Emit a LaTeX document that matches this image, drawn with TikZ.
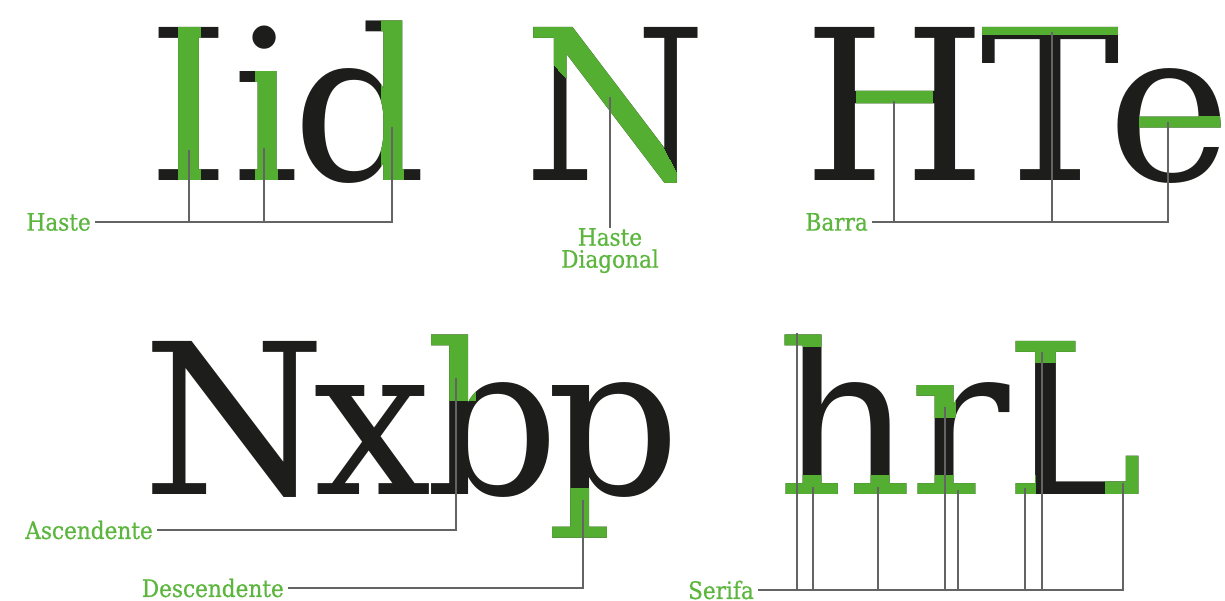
\documentclass[tikz,border=0pt]{standalone}
\usepackage{fontspec}
\usetikzlibrary{positioning}
\newfontfamily\glyphfont{DejaVu Serif}
\newfontfamily\labelfont{DejaVu Serif}[FakeStretch=0.9,FakeBold=0.6]
\definecolor{typegreen}{RGB}{84,174,50}
\definecolor{labelgreen}{RGB}{92,182,62}
\definecolor{typeink}{RGB}{29,29,27}
\definecolor{leadgray}{RGB}{100,100,100}

% green copy of a letter, seen only inside a clip path
\newcommand{\greenpart}[3]{%
  \begin{scope}
    \clip #1;
    \node[glyph, text=typegreen] at #2 {#3};
  \end{scope}}

\begin{document}
\begin{tikzpicture}[x=1pt, y=-1pt,
    glyph/.style={font={\glyphfont\fontsize{210}{210}\selectfont}, inner sep=0pt, outer sep=0pt, anchor=base, text=typeink},
    lbl/.style={font={\labelfont\fontsize{24}{26}\selectfont}, text=labelgreen, inner xsep=4pt, inner ysep=0pt},
    lead/.style={draw=leadgray, line width=1.4pt}
  ]
  \useasboundingbox (0,0) rectangle (1225,600);

  % top row: Iid  N  HTe
  \node[glyph] (gI) at (189,180) {I};
  \node[glyph] (gi) at (266,180) {i};
  \node[glyph] (gd) at (360,180) {d};
  \node[glyph] (gN) at (615,180) {N};
  \node[glyph] (gH) at (895,180) {H};
  \node[glyph] (gT) at (1051,180) {T};
  \node[glyph] (ge) at (1170,180) {e};

  \greenpart{(178,0) rectangle (200,190)}{(gI.base)}{I}
  \greenpart{(255,60) rectangle (277,190)}{(gi.base)}{i}
  \greenpart{(381,0) rectangle (403,190)}{(gd.base)}{d}
  \greenpart{(518,15) -- (592,15) -- (686,190) -- (671,190) -- (530,40) -- (518,40) -- cycle}{(gN.base)}{N}
  \greenpart{(856,85) rectangle (932,115)}{(gH.base)}{H}
  \greenpart{(970,15) rectangle (1130,34)}{(gT.base)}{T}
  \greenpart{(1139,116) rectangle (1225,128)}{(ge.base)}{e}

  % bottom row: Nxbp  hrL
  \node[glyph] (gN2) at (234,494) {N};
  \node[glyph] (gx) at (373,494) {x};
  \node[glyph] (gb) at (493,494) {b};
  \node[glyph] (gp) at (614,494) {p};
  \node[glyph] (gh) at (845,494) {h};
  \node[glyph] (gr) at (960,494) {r};
  \node[glyph] (gL) at (1074,494) {L};

  \greenpart{(430,310) rectangle (475,400)}{(gb.base)}{b}
  \greenpart{(545,488) -- (594,488) -- (594,500) -- (615,500) -- (615,560) -- (545,560) -- cycle}{(gp.base)}{p}
  \greenpart{(770,310) rectangle (830,346)}{(gh.base)}{h}
  \greenpart{(770,475) rectangle (920,500)}{(gh.base)}{h}
  \greenpart{(905,380) rectangle (955,417)}{(gr.base)}{r}
  \greenpart{(905,475) rectangle (990,500)}{(gr.base)}{r}
  \greenpart{(1000,330) rectangle (1090,362)}{(gL.base)}{L}
  \greenpart{(1000,475) rectangle (1035,500)}{(gL.base)}{L}
  \greenpart{(1105,430) rectangle (1145,500)}{(gL.base)}{L}

  % labels
  \node[lbl, anchor=east] (lblHaste) at (95,222) {Haste};
  \node[lbl, align=center, anchor=north] (lblDiag) at (610,228) {Haste\\[-4pt]Diagonal};
  \node[lbl, anchor=east] (lblBarra) at (872,222) {Barra};
  \node[lbl, anchor=east] (lblAsc) at (157,530) {Ascendente};
  \node[lbl, anchor=east] (lblDesc) at (288,588) {Descendente};
  \node[lbl, anchor=east] (lblSerifa) at (758,590) {Serifa};

  % leader ends on the letters
  \coordinate (stemI) at (189,150);
  \coordinate (stemi) at (264,148);
  \coordinate (stemd) at (392,127);
  \coordinate (stemN) at (610,97);
  \coordinate (barH) at (894,101);
  \coordinate (barT) at (1052,32);
  \coordinate (bare) at (1168,122);
  \coordinate (ascb) at (456,378);
  \coordinate (descp) at (583,500);

  % leaders
  \draw[lead] (lblHaste.east) -- (stemd |- lblHaste.east) -- (stemd);
  \draw[lead] (stemI) -- (stemI |- lblHaste.east);
  \draw[lead] (stemi) -- (stemi |- lblHaste.east);
  \draw[lead] (stemN) -- (lblDiag.north);
  \draw[lead] (lblBarra.east) -- (bare |- lblBarra.east) -- (bare);
  \draw[lead] (barH) -- (barH |- lblBarra.east);
  \draw[lead] (barT) -- (barT |- lblBarra.east);
  \draw[lead] (lblAsc.east) -- (ascb |- lblAsc.east) -- (ascb);
  \draw[lead] (lblDesc.east) -- (descp |- lblDesc.east) -- (descp);
  \draw[lead] (lblSerifa.east) -- (1123,592 |- lblSerifa.east) -- (1123,483);
  \foreach \sx/\sy in {797/333, 813/487, 878/487, 945/407, 958/490, 1025/488, 1042/352}
    \draw[lead] (\sx,\sy) -- (\sx,\sy |- lblSerifa.east);
\end{tikzpicture}
\end{document}
